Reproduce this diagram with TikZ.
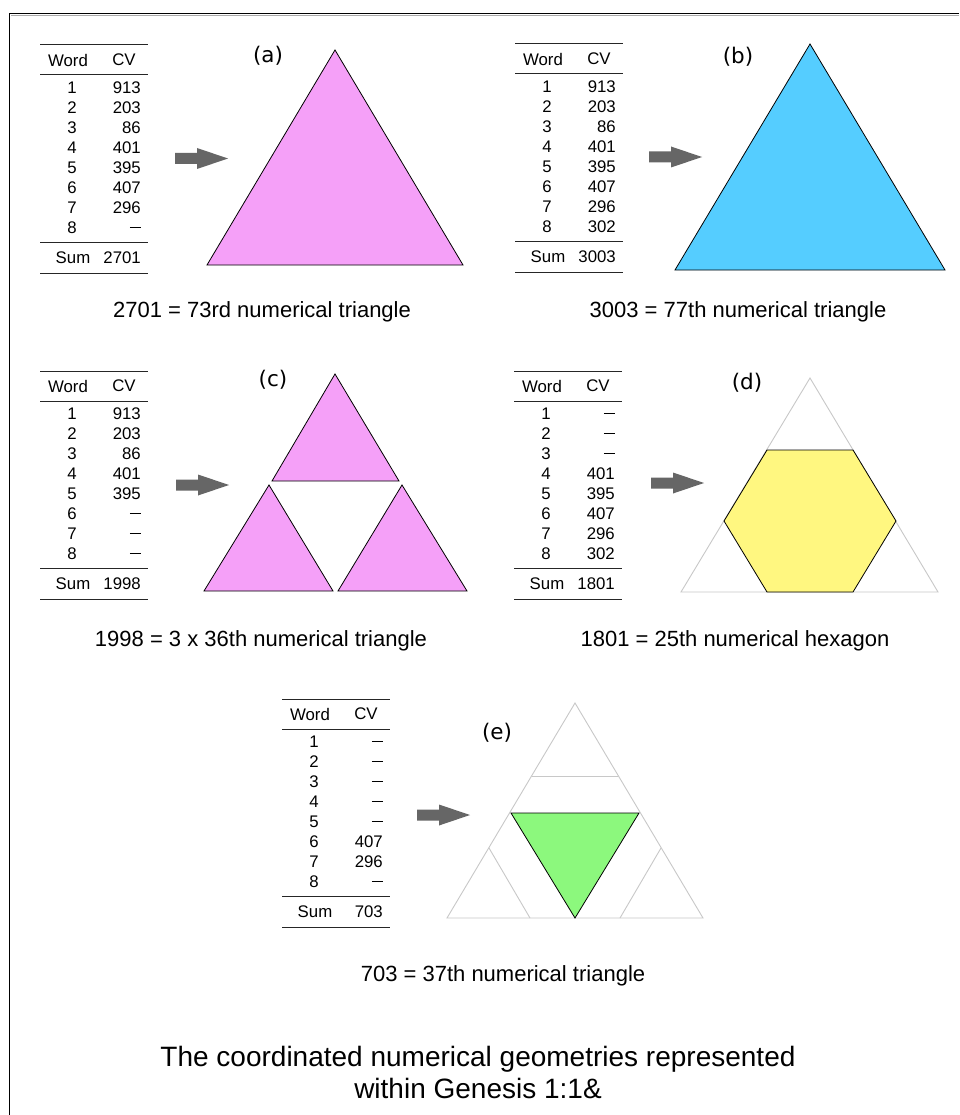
\documentclass[tikz,border=0pt]{standalone}
\usepackage{fontspec}
\setmainfont{Liberation Sans}
\newfontfamily\labfont{DejaVu Sans}
\definecolor{pinkfill}{RGB}{245,160,248}
\definecolor{bluefill}{RGB}{85,205,255}
\definecolor{yellowfill}{RGB}{255,247,128}
\definecolor{greenfill}{RGB}{140,248,125}
\definecolor{lightline}{RGB}{200,200,200}
\definecolor{arrowgray}{RGB}{102,102,102}
\definecolor{shadowgray}{RGB}{170,170,170}
\newcommand{\nd}{\vphantom{0}\rule[5.5pt]{11pt}{0.9pt}\hspace{5pt}}
\tikzset{
  tabtext/.style={inner sep=0pt, font=\fontsize{16.8}{20}\selectfont},
  rulestyle/.style={line width=1pt, draw=black!85},
  captext/.style={inner sep=0pt, font=\fontsize{22}{26}\selectfont},
  labtext/.style={inner sep=0pt, font=\labfont\fontsize{21.5}{24}\selectfont},
  titletext/.style={inner sep=0pt, align=center, font=\fontsize{28}{32}\selectfont},
  solidtri/.style={draw=black, line width=0.8pt, line join=miter},
  faintline/.style={draw=lightline, line width=0.9pt},
  blockarrow/.style={fill=arrowgray, draw=none},
  framestyle/.style={draw=black, line width=1.4pt}
}
% #1 prefix, #2 dx, #3 dy, #4 values, #5 sum
\newcommand{\cvtable}[5]{%
\begin{scope}[shift={(#2,#3)}]
  \draw[rulestyle] (40,45) -- (148,45);
  \node[tabtext] (#1-hw) at (68,60) {Word};
  \node[tabtext] (#1-hc) at (124,60) {CV};
  \draw[rulestyle] (40,75) -- (148,75);
  \foreach \v [count=\i] in {#4} {
    \node[tabtext] (#1-w\i) at (72,{88+20*(\i-1)}) {\i};
    \node[tabtext,anchor=east] (#1-c\i) at (141,{88+20*(\i-1)}) {\v};
  }
  \draw[rulestyle] (40,242) -- (148,242);
  \node[tabtext] (#1-sl) at (73,258) {Sum};
  \node[tabtext,anchor=east] (#1-sv) at (141,258) {#5};
  \draw[rulestyle] (40,273) -- (148,273);
\end{scope}}
% #1 x of tail, #2 y centre
\newcommand{\grayarrow}[2]{%
  \fill[blockarrow] (#1,#2-5.5) -- (#1+22,#2-5.5) -- (#1+22,#2-10.5) -- (#1+53,#2)
    -- (#1+22,#2+10.5) -- (#1+22,#2+5.5) -- (#1,#2+5.5) -- cycle;}
\begin{document}
\begin{tikzpicture}[x=1pt,y=-1pt]
\useasboundingbox (0,0) rectangle (959,1115);
\fill[white] (0,0) rectangle (959,1115);

% frame
\draw[shadowgray, line width=0.8pt] (11,15.2) -- (959,15.2);
\draw[framestyle] (9.5,13.5) -- (959,13.5);
\draw[framestyle] (9.5,13.5) -- (9.5,1115);

% ---------- (a) ----------
\cvtable{ta}{0}{0}{913,203,86,401,395,407,296,\nd}{2701}
\grayarrow{175}{158.5}
\draw[solidtri, fill=pinkfill] (335,50) -- (207,265) -- (463,265) -- cycle;
\node[labtext] (la) at (268,56) {(a)};
\node[captext] (ca) at (262,312) {2701 = 73rd numerical triangle};

% ---------- (b) ----------
\cvtable{tb}{475}{-1}{913,203,86,401,395,407,296,302}{3003}
\grayarrow{649}{157}
\draw[solidtri, fill=bluefill] (810,44) -- (675,270) -- (945,270) -- cycle;
\node[labtext] (lb) at (738,57) {(b)};
\node[captext] (cb) at (738,312) {3003 = 77th numerical triangle};

% ---------- (c) ----------
\cvtable{tc}{0}{326}{913,203,86,401,395,\nd,\nd,\nd}{1998}
\grayarrow{176}{485}
\draw[solidtri, fill=pinkfill] (335,374) -- (272,481) -- (399,481) -- cycle;
\draw[solidtri, fill=pinkfill] (269,485) -- (204,591) -- (333,591) -- cycle;
\draw[solidtri, fill=pinkfill] (402,485) -- (338,591) -- (467,591) -- cycle;
\node[labtext] (lc) at (273,380) {(c)};
\node[captext] (cc) at (261,641) {1998 = 3 x 36th numerical triangle};

% ---------- (d) ----------
\cvtable{td}{474}{326}{\nd,\nd,\nd,401,395,407,296,302}{1801}
\grayarrow{651}{483}
\draw[faintline] (810,378) -- (681,592) -- (938,592) -- cycle;
\draw[solidtri, fill=yellowfill] (767,450) -- (853,450) -- (896,521) -- (853,592) -- (767,592) -- (724,521) -- cycle;
\node[labtext] (ld) at (747,383) {(d)};
\node[captext] (cd) at (735,641) {1801 = 25th numerical hexagon};

% ---------- (e) ----------
\cvtable{te}{242}{654}{\nd,\nd,\nd,\nd,\nd,407,296,\nd}{703}
\grayarrow{417}{815}
\draw[faintline] (575,703) -- (447,918) -- (703,918) -- cycle;
\draw[faintline] (532,776) -- (618,776);
\draw[faintline] (489,848) -- (530,918);
\draw[faintline] (661,848) -- (620,918);
\draw[solidtri, fill=greenfill] (511,813) -- (639,813) -- (575,918) -- cycle;
\node[labtext] (le) at (497,733) {(e)};
\node[captext] (ce) at (503,976) {703 = 37th numerical triangle};

% ---------- title ----------
\node[titletext] (title) at (478,1072) {The coordinated numerical geometries represented\\within Genesis 1:1\&};
\end{tikzpicture}
\end{document}
